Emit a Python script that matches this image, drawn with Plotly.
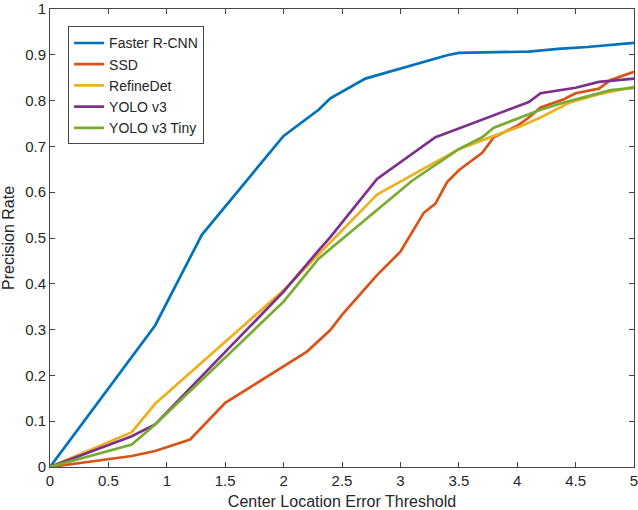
import plotly.graph_objects as go

# data
frcnn_x = [0, 0.9, 1.3, 2.0, 2.3, 2.4, 2.7, 3.4, 3.5, 4.1, 4.35, 4.6, 5.0]
frcnn_y = [0, 0.309, 0.507, 0.723, 0.78, 0.805, 0.848, 0.899, 0.904, 0.907, 0.913, 0.917, 0.926]

ssd_x = [0, 0.7, 0.9, 1.2, 1.5, 2.0, 2.2, 2.4, 2.5, 2.7, 2.8, 3.0, 3.1, 3.2, 3.3, 3.4,
         3.5, 3.7, 3.8, 4.0, 4.1, 4.2, 4.4, 4.5, 4.7, 4.8, 5.0]
ssd_y = [0, 0.024, 0.035, 0.06, 0.14, 0.22, 0.252, 0.299, 0.332, 0.39, 0.419, 0.47, 0.513,
         0.555, 0.575, 0.622, 0.648, 0.686, 0.72, 0.745, 0.763, 0.785, 0.803, 0.816, 0.826,
         0.845, 0.863]

refine_x = [0, 0.7, 0.9, 2.0, 2.8, 3.5, 3.8, 4.0, 4.2, 4.45, 4.7, 5.0]
refine_y = [0, 0.076, 0.138, 0.386, 0.595, 0.694, 0.723, 0.741, 0.763, 0.796, 0.814, 0.83]

yolo_x = [0, 0.7, 0.9, 2.0, 2.3, 2.4, 2.8, 3.3, 3.5, 4.1, 4.2, 4.4, 4.5, 4.7, 5.0]
yolo_y = [0, 0.067, 0.093, 0.383, 0.473, 0.502, 0.629, 0.72, 0.739, 0.797, 0.816, 0.825,
          0.828, 0.841, 0.848]

tiny_x = [0, 0.7, 0.9, 2.0, 2.3, 3.1, 3.5, 3.7, 3.8, 4.2, 4.4, 4.8, 5.0]
tiny_y = [0, 0.049, 0.093, 0.361, 0.455, 0.625, 0.694, 0.72, 0.741, 0.78, 0.796, 0.823, 0.828]

series = [
    ("Faster R-CNN", frcnn_x, frcnn_y, "#0072BD"),
    ("SSD", ssd_x, ssd_y, "#D95319"),
    ("RefineDet", refine_x, refine_y, "#EDB120"),
    ("YOLO v3", yolo_x, yolo_y, "#7E2F8E"),
    ("YOLO v3 Tiny", tiny_x, tiny_y, "#77AC30"),
]

fig = go.Figure()
for name, xs, ys, col in series:
    fig.add_trace(go.Scatter(x=xs, y=ys, mode="lines", name=name,
                             line=dict(color=col, width=2.7)))

axis_style = dict(
    showgrid=False, zeroline=False, showline=True, linecolor="#444444", linewidth=1,
    mirror="ticks", ticks="inside", ticklen=5, tickcolor="#444444",
    tickfont=dict(size=15, color="#262626"), automargin=False,
    ticklabeloverflow="allow",
)

fig.update_layout(
    width=638, height=510,
    margin=dict(l=50, r=4, t=9, b=43),
    paper_bgcolor="white", plot_bgcolor="white",
    font=dict(family="Liberation Sans, Arial, sans-serif", color="#262626"),
    xaxis=dict(range=[0, 5], dtick=0.5,
               title=dict(text="Center Location Error Threshold", font=dict(size=16)),
               **axis_style),
    yaxis=dict(range=[0, 1], dtick=0.1,
               title=dict(text="Precision Rate", font=dict(size=16)),
               **axis_style),
    legend=dict(x=0.031, y=0.962, xanchor="left", yanchor="top",
                bgcolor="white", bordercolor="#444444", borderwidth=1,
                font=dict(size=14), tracegroupgap=0),
)

# drop the page's default body margin so the figure sits at the window corner
fig.write_html("out.html", config={"displayModeBar": False},
               post_script="document.body.style.margin='0';")
